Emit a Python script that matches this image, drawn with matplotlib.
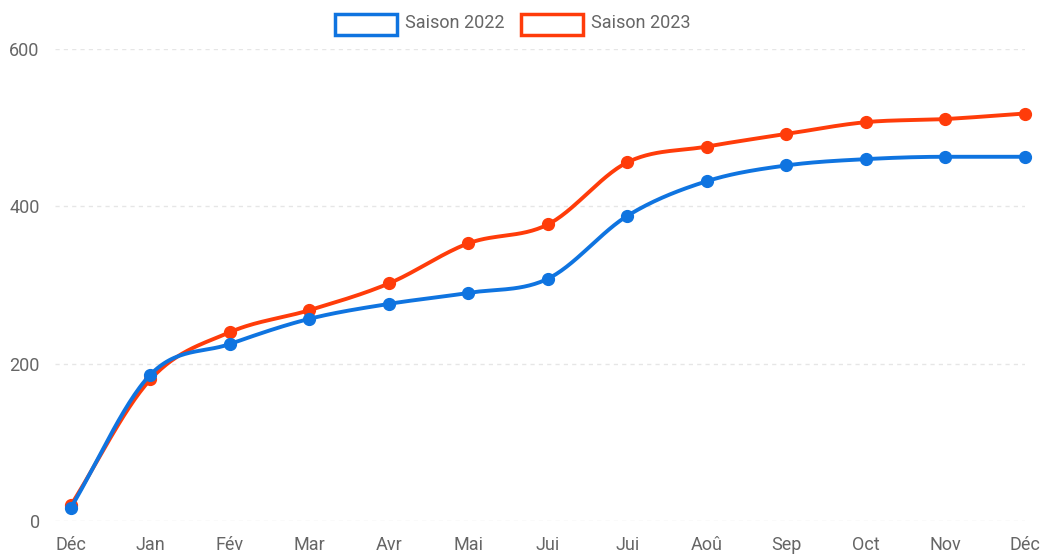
import matplotlib
matplotlib.use("Agg")
import matplotlib.pyplot as plt
from matplotlib.patches import Rectangle
import numpy as np

# data
months = ["Déc", "Jan", "Fév", "Mar", "Avr", "Mai", "Jui", "Jui",
          "Aoû", "Sep", "Oct", "Nov", "Déc"]
saison_2022 = [17, 186, 225, 257, 276, 290, 308, 388, 432, 452, 460, 463, 463]
saison_2023 = [20, 180, 240, 268, 302, 353, 377, 456, 476, 492, 507, 511, 518]

BLUE = "#0f74e0"
RED = "#ff3c0a"
GREY = "#666666"


def monotone(x, y, n=30):
    # Fritsch-Carlson monotone cubic, like the smoothed line in the original
    x = np.asarray(x, float)
    y = np.asarray(y, float)
    h = np.diff(x)
    d = np.diff(y) / h
    m = np.zeros_like(y)
    m[0], m[-1] = d[0], d[-1]
    for i in range(1, len(y) - 1):
        m[i] = 0 if d[i - 1] * d[i] <= 0 else (d[i - 1] + d[i]) / 2
    for i in range(len(d)):
        if d[i] == 0:
            m[i] = m[i + 1] = 0
            continue
        a, b = m[i] / d[i], m[i + 1] / d[i]
        s = a * a + b * b
        if s > 9:
            t = 3 / np.sqrt(s)
            m[i] = t * a * d[i]
            m[i + 1] = t * b * d[i]
    xs, ys = [], []
    for i in range(len(d)):
        t = np.linspace(0, 1, n, endpoint=False)
        h00 = 2 * t**3 - 3 * t**2 + 1
        h10 = t**3 - 2 * t**2 + t
        h01 = -2 * t**3 + 3 * t**2
        h11 = t**3 - t**2
        xs.append(x[i] + t * h[i])
        ys.append(h00 * y[i] + h10 * h[i] * m[i] + h01 * y[i + 1] + h11 * h[i] * m[i + 1])
    xs.append([x[-1]])
    ys.append([y[-1]])
    return np.concatenate(xs), np.concatenate(ys)


plt.rcParams['font.family'] = ['Roboto', 'DejaVu Sans']

fig = plt.figure(figsize=(10.46, 5.56), dpi=100)
ax = fig.add_axes([55 / 1046, 1 - 521 / 556, (1025 - 55) / 1046, (521 - 49) / 556])

x = np.arange(len(months))
for vals, col, z in [(saison_2023, RED, 3), (saison_2022, BLUE, 4)]:
    sx, sy = monotone(x, vals)
    ax.plot(sx, sy, color=col, lw=2.8, zorder=z, clip_on=False, solid_capstyle='round')
    ax.plot(x, vals, 'o', color=col, ms=8.5, zorder=z, clip_on=False)

ax.set_xlim(-0.2, 12)
ax.set_ylim(0, 600)
ax.set_yticks([0, 200, 400, 600])
ax.set_xticks(x)
ax.set_xticklabels(months)
for s in ax.spines.values():
    s.set_visible(False)
ax.tick_params(axis='both', length=0, labelsize=13, labelcolor=GREY)
ax.tick_params(axis='x', pad=11)
ax.tick_params(axis='y', pad=11)
ax.grid(axis='y', color='#e6e6e6', lw=1, ls=(0, (3, 3)))
ax.set_axisbelow(True)

# legend drawn by hand: hollow boxes like the original
W, H = 1046, 556
for (x0, label, col) in [(335, "Saison 2022", BLUE), (521, "Saison 2023", RED)]:
    fig.patches.append(Rectangle((x0 / W, 1 - 35 / H), 62 / W, 21 / H,
                                 transform=fig.transFigure, facecolor='white',
                                 edgecolor=col, lw=2.5))
    fig.text((x0 + 70) / W, 1 - 23 / H, label, color=GREY, fontsize=13,
             ha='left', va='center')

fig.savefig("out.png", dpi=100)
